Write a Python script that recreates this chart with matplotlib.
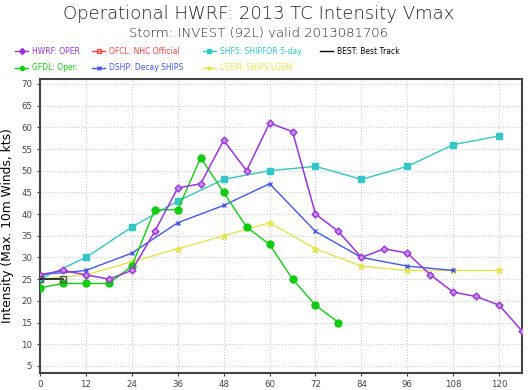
import matplotlib
matplotlib.use('Agg')
import matplotlib.pyplot as plt

# forecast hours / intensity (kts)
hwrf_t = [0, 6, 12, 18, 24, 30, 36, 42, 48, 54, 60, 66, 72, 78, 84, 90, 96, 102, 108, 114, 120, 126]
hwrf_v = [26, 27, 26, 25, 27, 36, 46, 47, 57, 50, 61, 59, 40, 36, 30, 32, 31, 26, 22, 21, 19, 13]

gfdl_t = [0, 6, 12, 18, 24, 30, 36, 42, 48, 54, 60, 66, 72, 78]
gfdl_v = [23, 24, 24, 24, 28, 41, 41, 53, 45, 37, 33, 25, 19, 15]

shf5_t = [0, 12, 24, 36, 48, 60, 72, 84, 96, 108, 120]
shf5_v = [25, 30, 37, 43, 48, 50, 51, 48, 51, 56, 58]

dshp_t = [0, 12, 24, 36, 48, 60, 72, 84, 96, 108]
dshp_v = [26, 27, 31, 38, 42, 47, 36, 30, 28, 27]

lgem_t = [0, 12, 24, 36, 48, 60, 72, 84, 96, 108, 120]
lgem_v = [25, 26, 29, 32, 35, 38, 32, 28, 27, 27, 27]

best_t = [0, 6]
best_v = [25, 25]

xticks = [0, 12, 24, 36, 48, 60, 72, 84, 96, 108, 120]
yticks = [5, 10, 15, 20, 25, 30, 35, 40, 45, 50, 55, 60, 65, 70]

c_hwrf = '#9933dd'
c_gfdl = '#11cc11'
c_shf5 = '#33c6c6'
c_dshp = '#4455ee'
c_lgem = '#e4e450'
c_ofcl = '#ff4444'

fig = plt.figure(figsize=(5.31, 3.9), dpi=100)
ax = fig.add_axes([0.0753, 0.044, 0.908, 0.753])

ax.plot(lgem_t, lgem_v, color=c_lgem, lw=1, marker='*', ms=4.5, zorder=3)
ax.plot(dshp_t, dshp_v, color=c_dshp, lw=1, marker='x', ms=3.5, mew=1, zorder=3)
ax.plot(shf5_t, shf5_v, color=c_shf5, lw=1, marker='s', ms=5, zorder=3)
ax.plot(gfdl_t, gfdl_v, color=c_gfdl, lw=1, marker='o', ms=5, zorder=4)
ax.plot(hwrf_t, hwrf_v, color=c_hwrf, lw=1.1, marker='D', ms=3.5, mfc='#c78ee8', mec=c_hwrf, zorder=5)
ax.plot(best_t, best_v, color='black', lw=1.1, marker='s', ms=4.5, mfc='none', mec='#555555', zorder=6)

ax.set_xlim(0, 126)
ax.set_ylim(3.4, 71.1)
ax.set_xticks(xticks)
ax.set_yticks(yticks)
ax.tick_params(labelsize=6.2, colors='#444444', length=2)
ax.grid(True, color='#cccccc', linestyle=':', lw=0.8)
for s in ax.spines.values():
    s.set_color('#444444')
    s.set_linewidth(1.5)
ax.set_ylabel('Intensity (Max. 10m Winds, kts)', fontsize=8.8, labelpad=5)

fig.text(0.487, 0.965, 'Operational HWRF: 2013 TC Intensity Vmax', ha='center', va='center',
         fontsize=13, color='#222222', fontweight='light')
fig.text(0.487, 0.915, 'Storm: INVEST (92L) valid 2013081706', ha='center', va='center',
         fontsize=9.5, color='#222222', fontweight='light')

# legend
leg = [
    (0.028, 0.868, c_hwrf, 'D', 'HWRF: OPER'),
    (0.173, 0.868, c_ofcl, 's', 'OFCL: NHC Official'),
    (0.382, 0.868, c_shf5, 's', 'SHF5: SHIPFOR 5-day'),
    (0.602, 0.868, 'black', None, 'BEST: Best Track'),
    (0.028, 0.826, c_gfdl, 'o', 'GFDL: Oper.'),
    (0.173, 0.826, c_dshp, 'x', 'DSHP: Decay SHIPS'),
    (0.382, 0.826, c_lgem, '*', 'LGEM: SHIPS LGEM'),
]
for x, y, c, m, txt in leg:
    mfc = 'none' if m == 's' and c == c_ofcl else c
    fig.lines.append(plt.Line2D([x, x + 0.025], [y, y], color=c, lw=1, transform=fig.transFigure))
    if m:
        fig.lines.append(plt.Line2D([x + 0.0125], [y], color=c, marker=m, ms=3, mfc=mfc, transform=fig.transFigure))
    fig.text(x + 0.032, y, txt, color=c, fontsize=5.5, va='center', ha='left')

fig.savefig('out.png', dpi=100)
